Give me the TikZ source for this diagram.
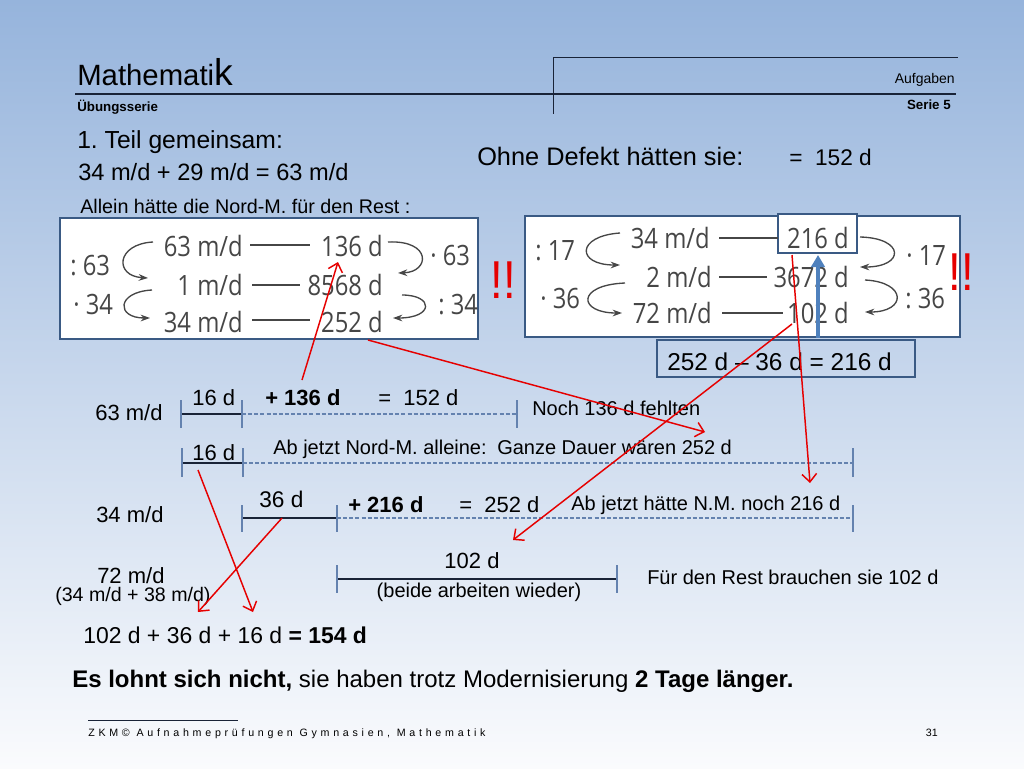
\documentclass[tikz,border=0pt]{standalone}
\usepackage{fontspec}
\setmainfont{Liberation Sans}
\newfontfamily\tabfont[FakeStretch=0.85]{Open Sans}
\newfontfamily\footfont[LetterSpace=35]{Liberation Sans}
\usetikzlibrary{arrows.meta}
\definecolor{bgtop}{RGB}{150,180,220}
\definecolor{bgbot}{RGB}{250,251,253}
\definecolor{boxblue}{RGB}{58,90,132}
\definecolor{tickblue}{RGB}{100,130,175}
\definecolor{navy}{RGB}{25,35,55}
\definecolor{arrowred}{RGB}{230,0,0}
\definecolor{tabgray}{RGB}{70,70,70}
\definecolor{steel}{RGB}{79,129,189}
\newcommand{\fsz}[1]{\fontsize{#1pt}{#1pt}\selectfont}
\tikzset{
  txt/.style={inner sep=0pt, anchor=base west, text=black},
  txtc/.style={inner sep=0pt, anchor=base, text=black},
  tabr/.style={inner sep=0pt, anchor=base east, text=tabgray, font=\tabfont\fsz{21}},
  tabl/.style={inner sep=0pt, anchor=base west, text=tabgray, font=\tabfont\fsz{21}},
  tabline/.style={draw=tabgray, line width=0.9pt},
  bendarrow/.style={draw=tabgray, line width=1pt, -{Stealth[length=7pt,width=5pt]}},
  tick/.style={draw=tickblue, line width=0.8pt},
  solidline/.style={draw=navy, line width=1.1pt},
  dashline/.style={draw=tickblue, line width=0.8pt, dash pattern=on 3pt off 1.6pt},
  redarrow/.style={draw=arrowred, line width=1.1pt, -{Straight Barb[length=6pt,width=11pt]}},
  whitebox/.style={draw=boxblue, line width=1.8pt, fill=white},
}
\begin{document}
\frenchspacing
\begin{tikzpicture}[x=0.75pt,y=-0.75pt]
\shade[top color=bgtop,bottom color=bgbot] (0,0) rectangle (1024,768);
\useasboundingbox (0,0) rectangle (1024,768);

% header
\draw[navy, line width=1.6pt] (75,94) -- (956,94);
\draw[navy, line width=0.7pt] (553,57) -- (958,57);
\draw[navy, line width=0.7pt] (553,57) -- (553,114);
\node[txt, font=\fsz{22}] (title) at (77,85) {Mathemati{\fsz{28}k}};
\node[inner sep=0pt, anchor=base east, font=\fsz{10.5}] (aufg) at (955,83) {Aufgaben};
\node[txt, font=\bfseries\fsz{10}] (uebung) at (77,111) {Übungsserie};
\node[inner sep=0pt, anchor=base east, font=\bfseries\fsz{10}] (serie) at (951,109) {Serie 5};

% top texts
\node[txt, font=\fsz{18.5}] (teil) at (77,148) {1. Teil gemeinsam:};
\node[txt, font=\fsz{17.7}] (eq1) at (78,180) {34 m/d + 29 m/d = 63 m/d};
\node[txt, font=\fsz{14.8}] (allein) at (80,213) {Allein hätte die Nord-M. für den Rest :};
\node[txt, font=\fsz{19}] (ohne) at (477,165) {Ohne Defekt hätten sie:};
\node[txt, font=\fsz{17}] (ohneval) at (789,165) {= \ 152 d};

% left table
\draw[whitebox] (60,218) rectangle (478,339);
\node[tabr] (l1a) at (243,256) {63 m/d};
\node[tabr] (l2a) at (243,295) {1 m/d};
\node[tabr] (l3a) at (243,332) {34 m/d};
\node[tabr] (l1b) at (383,256) {136 d};
\node[tabr] (l2b) at (383,295) {8568 d};
\node[tabr] (l3b) at (383,332) {252 d};
\node[tabl] (ll1) at (70,275) {: 63};
\node[tabl] (ll2) at (73,314) {· 34};
\node[tabl] (lr1) at (430,265) {· 63};
\node[tabl] (lr2) at (438,314) {: 34};
\draw[tabline] (250,245) -- (310,245);
\draw[tabline] (252,285) -- (300,285);
\draw[tabline] (252,320) -- (310,320);
\draw[bendarrow] (153,242) .. controls (116,244) and (114,276) .. (148,278);
\draw[bendarrow] (152,290) .. controls (116,292) and (116,318) .. (150,318);
\draw[bendarrow] (388,242) .. controls (432,240) and (430,272) .. (398,273);
\draw[bendarrow] (402,295) .. controls (434,295) and (434,318) .. (393,318);

% right table
\draw[whitebox] (525,216) rectangle (960,337);
\draw[whitebox] (778,214) rectangle (857,253);
\node[tabr] (r1a) at (710,248) {34 m/d};
\node[tabr] (r2a) at (712,287) {2 m/d};
\node[tabr] (r3a) at (712,323) {72 m/d};
\node[tabr] (r1b) at (849,248) {216 d};
\node[tabr] (r2b) at (849,287) {3672 d};
\node[tabr] (r3b) at (849,323) {102 d};
\node[tabl] (rl1) at (535,260) {: 17};
\node[tabl] (rl2) at (540,308) {· 36};
\node[tabl] (rr1) at (906,265) {· 17};
\node[tabl] (rr2) at (905,308) {: 36};
\draw[tabline] (719,238) -- (778,238);
\draw[tabline] (719,277) -- (767,277);
\draw[tabline] (722,313) -- (783,313);
\draw[bendarrow] (620,233) .. controls (576,236) and (576,265) .. (620,265);
\draw[bendarrow] (625,283) .. controls (576,285) and (578,313) .. (622,313);
\draw[bendarrow] (860,237) .. controls (905,238) and (905,267) .. (860,267);
\draw[bendarrow] (865,280) .. controls (907,282) and (907,312) .. (865,312);

% exclamation marks
\node[text=arrowred, font=\fsz{40}, inner sep=0pt] (ex1) at (503,280) {\scalebox{0.85}[1]{!!}};
\node[text=arrowred, font=\fsz{40}, inner sep=0pt] (ex2) at (961,272) {\scalebox{0.85}[1]{!!}};

% difference box
\draw[draw=boxblue, line width=1.8pt] (657,340) rectangle (915,377);
\node[txt, font=\fsz{18.3}] (diff) at (667,370) {252 d – 36 d = 216 d};

% blue arrow
\coordinate (bs) at (818,338);
\coordinate (be) at (818,255);
\draw[steel, line width=2.4pt, -{Triangle[length=9pt,width=10pt]}] (bs) -- (be);

% timeline row A
\draw[solidline] (181,414) -- (242,414);
\draw[dashline] (242,414) -- (517,414);
\draw[tick] (181,400) -- (181,428);
\draw[tick] (242,400) -- (242,428);
\draw[tick] (517,400) -- (517,428);
\node[txt, font=\fsz{16.5}] (ra0) at (95,420) {63 m/d};
\node[txt, font=\fsz{16.5}] (ra1) at (192,405) {16 d};
\node[txt, font=\bfseries\fsz{16.5}] (ra2) at (265,405) {+ 136 d};
\node[txt, font=\fsz{16.5}] (ra3) at (378,405) {= \ 152 d};
\node[txt, font=\fsz{15}] (ra4) at (532,415) {Noch 136 d fehlten};

% timeline row B
\draw[solidline] (182,463) -- (243,463);
\draw[dashline] (243,463) -- (853,463);
\draw[tick] (182,448) -- (182,477);
\draw[tick] (243,448) -- (243,477);
\draw[tick] (853,448) -- (853,477);
\node[txt, font=\fsz{16.5}] (rb1) at (192,460) {16 d};
\node[txt, font=\fsz{15}] (rb2) at (273,454) {Ab jetzt Nord-M. alleine:};
\node[txt, font=\fsz{15}] (rb3) at (497,454) {Ganze Dauer wären 252 d};

% timeline row C
\draw[solidline] (242,518) -- (337,518);
\draw[dashline] (337,518) -- (853,518);
\draw[tick] (242,505) -- (242,532);
\draw[tick] (337,505) -- (337,532);
\draw[tick] (853,505) -- (853,532);
\node[txt, font=\fsz{16.5}] (rc0) at (96,522) {34 m/d};
\node[txt, font=\fsz{17}] (rc1) at (259,507) {36 d};
\node[txt, font=\bfseries\fsz{16.5}] (rc2) at (348,512) {+ 216 d};
\node[txt, font=\fsz{16.5}] (rc3) at (459,512) {= \ 252 d};
\node[txt, font=\fsz{15}] (rc4) at (571,510) {Ab jetzt hätte N.M. noch 216 d};

% timeline row D
\draw[solidline] (337,579) -- (617,579);
\draw[tick] (337,565) -- (337,593);
\draw[tick] (617,565) -- (617,593);
\node[txt, font=\fsz{16.5}] (rd0) at (97,583) {72 m/d};
\node[txt, font=\fsz{14.7}] (rd0b) at (55,601) {(34 m/d + 38 m/d)};
\node[txtc, font=\fsz{16.5}] (rd1) at (472,568) {102 d};
\node[txtc, font=\fsz{15}] (rd2) at (479,597) {(beide arbeiten wieder)};
\node[txt, font=\fsz{15}] (rd3) at (647,584) {Für den Rest brauchen sie 102 d};

% bottom
\node[txt, font=\fsz{17.2}] (sum) at (83,643) {102 d + 36 d + 16 d \textbf{= 154 d}};
\node[txt, font=\fsz{18}] (concl) at (72,687) {\textbf{Es lohnt sich nicht,} sie haben trotz Modernisierung \textbf{2 Tage länger.}};

% footer
\draw[navy, line width=0.6pt] (88,720) -- (238,720);
\node[txt, font=\footfont\fsz{8}] (foot) at (88,736) {ZKM© Aufnahmeprüfungen Gymnasien, Mathematik};
\node[inner sep=0pt, anchor=base east, font=\fsz{8}] (page) at (938,736) {31};

% red arrows
\coordinate (a1s) at (302,380);
\coordinate (a1e) at (338,262);
\coordinate (a2s) at (368,340);
\coordinate (a2e) at (705,432);
\coordinate (a3s) at (792,324);
\coordinate (a3e) at (513,540);
\coordinate (a4s) at (792,255);
\coordinate (a4e) at (810,483);
\coordinate (a5s) at (198,470);
\coordinate (a5e) at (253,612);
\coordinate (a6s) at (282,518);
\coordinate (a6e) at (198,612);
\draw[redarrow] (a1s) -- (a1e);
\draw[redarrow] (a2s) -- (a2e);
\draw[redarrow] (a3s) -- (a3e);
\draw[redarrow] (a4s) -- (a4e);
\draw[redarrow] (a5s) -- (a5e);
\draw[redarrow] (a6s) -- (a6e);
\end{tikzpicture}
\end{document}
